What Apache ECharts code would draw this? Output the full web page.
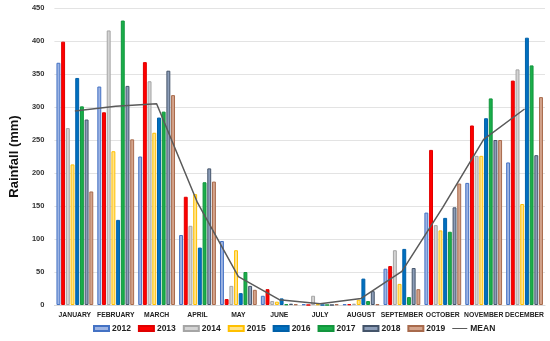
<!DOCTYPE html>
<html><head><meta charset="utf-8">
<script src="https://cdn.jsdelivr.net/npm/echarts@6/dist/echarts.min.js"></script>
<style>html,body{margin:0;padding:0;background:#fff}#c{width:550px;height:341px}</style>
</head><body><div id="c"></div>
<script>
const months = ['JANUARY','FEBRUARY','MARCH','APRIL','MAY','JUNE','JULY','AUGUST','SEPTEMBER','OCTOBER','NOVEMBER','DECEMBER'];
const y2012 = [367,331,225,106,97,14,1,1,55,140,185,216];
const y2013 = [399,292,368,164,9,24,0,1,59,235,272,340];
const y2014 = [268,416,339,120,29,6,14,2,83,121,226,357];
const y2015 = [213,233,261,168,83,5,1,8,32,113,226,153];
const y2016 = [344,129,284,87,18,10,0,40,85,132,283,405];
const y2017 = [301,431,293,186,50,1,0,6,12,111,313,363];
const y2018 = [281,332,355,207,29,2,0,21,56,148,250,227];
const y2019 = [172,251,318,187,23,1,1,1,24,184,250,315];
const meanVals = [294,301,305,155,43,8,2,10,51,148,251,297];
const yTicks = [0,50,100,150,200,250,300,350,400,450];

const yearDefs = [
  ['2012', y2012, '#9DB4E3', '#4472C4'],
  ['2013', y2013, '#FF0000', '#E00000'],
  ['2014', y2014, '#D4D4D4', '#A5A5A5'],
  ['2015', y2015, '#FFE38A', '#FFC000'],
  ['2016', y2016, '#0070C0', '#0060A8'],
  ['2017', y2017, '#1AAE4A', '#12953D'],
  ['2018', y2018, '#8C9DB8', '#44546A'],
  ['2019', y2019, '#D4A48C', '#A86A4C']
];
const series = yearDefs.map(d => ({
  name: d[0], type: 'bar', data: d[1],
  barGap: '20%', barCategoryGap: '10%',
  itemStyle: {color: d[2], borderColor: d[3], borderWidth: 1}
}));
series.push({
  name: 'MEAN', type: 'line', data: meanVals, symbol: 'none',
  lineStyle: {color: '#5A5A5A', width: 1.5}, itemStyle: {color: '#5A5A5A'}, z: 5
});
const legendData = yearDefs.map(d => ({name: d[0], icon: 'rect'}));
legendData.push({name: 'MEAN', icon: 'path://M0,0 L30,0 L30,2 L0,2 Z'});

const chart = echarts.init(document.getElementById('c'));
chart.setOption({
  animation: false,
  textStyle: {fontFamily: 'Liberation Sans, Arial, sans-serif'},
  grid: {left: 48, right: 5, top: 8, bottom: 36, containLabel: false},
  legend: {
    data: legendData, bottom: 3, left: 88, itemWidth: 15, itemHeight: 5, itemGap: 7,
    textStyle: {fontSize: 8.5, fontWeight: 'bold', color: '#222', padding: [0,0,0,-2]}
  },
  xAxis: {
    type: 'category', data: months,
    axisLine: {lineStyle: {color: '#D9D9D9'}}, axisTick: {show: false},
    axisLabel: {interval: 0, fontSize: 6.8, fontWeight: 'bold', color: '#222', margin: 7}
  },
  yAxis: {
    type: 'value', min: 0, max: 450, interval: 50,
    name: 'Rainfall (mm)', nameLocation: 'middle', nameGap: 29,
    nameTextStyle: {fontSize: 13, fontWeight: 'bold', color: '#111'},
    axisLabel: {fontSize: 7.5, fontWeight: 'bold', color: '#333', margin: 10,
      formatter: v => yTicks.includes(v) ? String(v) : ''},
    splitLine: {lineStyle: {color: '#E3E3E3'}},
    axisLine: {show: false}, axisTick: {show: false}
  },
  series: series
});
</script></body></html>
